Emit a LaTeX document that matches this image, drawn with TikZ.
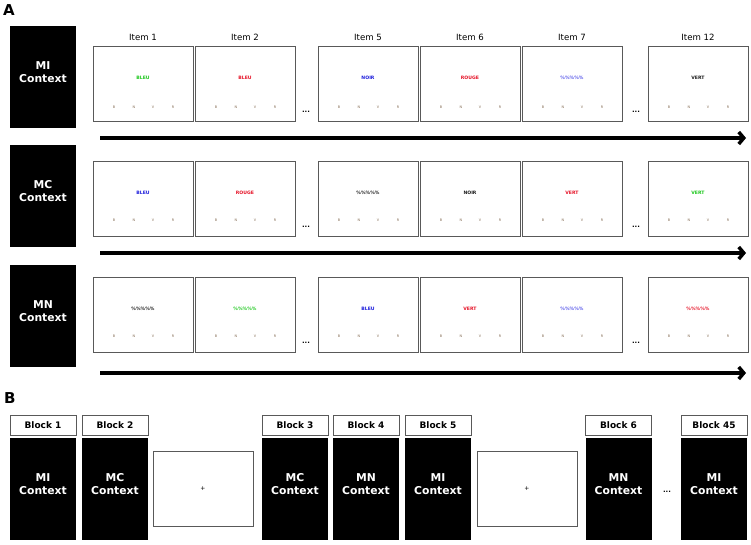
\documentclass[tikz,border=0pt]{standalone}
\usepackage{fontspec}
\setmainfont{DejaVu Sans}
\usetikzlibrary{arrows.meta}
\definecolor{wgreen}{RGB}{30,200,30}
\definecolor{wred}{RGB}{230,20,40}
\definecolor{wblue}{RGB}{30,30,220}
\definecolor{lblue}{RGB}{90,90,235}
\definecolor{wblack}{RGB}{30,30,30}
\definecolor{respcol}{RGB}{130,105,80}
\newcommand{\pcts}{\%\%\%\%\%}
\begin{document}
\begin{tikzpicture}[x=1pt,y=-1pt,
 ctx/.style={fill=black,minimum width=66pt,minimum height=102pt,inner sep=0pt,
   label={[text=white,font=\bfseries\fontsize{10.8}{13}\selectfont,align=center,yshift=5pt]center:#1}},
 screen/.style={draw=black!65,line width=0.9pt,fill=white,minimum width=100pt,minimum height=75pt,inner sep=0pt},
 word/.style={font=\bfseries\fontsize{4.6}{5}\selectfont,inner sep=0pt},
 resp/.style={font=\fontsize{3.4}{4}\selectfont,text=respcol,inner sep=0pt},
 itemlab/.style={font=\fontsize{8.6}{10}\selectfont,inner sep=0pt},
 blocklab/.style={draw=black!65,line width=0.9pt,fill=white,minimum width=66pt,minimum height=20pt,font=\bfseries\fontsize{9}{10}\selectfont,inner sep=0pt},
 timeline/.style={line width=3.5pt,-{Straight Barb[length=5pt,width=12pt]}},
 dots/.style={font=\bfseries\fontsize{7}{8}\selectfont,inner sep=0pt},
 panel/.style={font=\bfseries\fontsize{15}{17}\selectfont,anchor=north west,inner sep=0pt}
]
\useasboundingbox (0,0) rectangle (751,544);

% Panel labels
\node[panel] (pA) at (3,4) {A};
\node[panel] (pB) at (4,392) {B};

% Context boxes (panel A)
\node[ctx={MI\\Context}] (c1) at (43,77) {};
\node[ctx={MC\\Context}] (c2) at (43,196) {};
\node[ctx={MN\\Context}] (c3) at (43,316) {};

% Item labels
\foreach \cx/\t [count=\i] in {143/Item 1,245/Item 2,368/Item 5,470/Item 6,572/Item 7,698/Item 12}
  \node[itemlab] (it\i) at (\cx,37) {\t};

% Row 1
\foreach \cx/\w/\col [count=\i] in {143/BLEU/wgreen,245/BLEU/wred,368/NOIR/wblue,470/ROUGE/wred,572/\pcts/lblue,698/VERT/wblack}{
  \node[screen] (s1-\i) at (\cx,83.5) {};
  \node[word,text=\col] (w1-\i) at (\cx,78) {\w};
  \node[resp] (b1-\i) at (\cx-29,107.5) {B};
  \node[resp] (n1-\i) at (\cx-9,107.5) {N};
  \node[resp] (v1-\i) at (\cx+10,107.5) {V};
  \node[resp] (r1-\i) at (\cx+30,107.5) {R};
}
% Row 2
\foreach \cx/\w/\col [count=\i] in {143/BLEU/wblue,245/ROUGE/wred,368/\pcts/wblack,470/NOIR/wblack,572/VERT/wred,698/VERT/wgreen}{
  \node[screen] (s2-\i) at (\cx,198.5) {};
  \node[word,text=\col] (w2-\i) at (\cx,192.5) {\w};
  \node[resp] (b2-\i) at (\cx-29,220) {B};
  \node[resp] (n2-\i) at (\cx-9,220) {N};
  \node[resp] (v2-\i) at (\cx+10,220) {V};
  \node[resp] (r2-\i) at (\cx+30,220) {R};
}
% Row 3
\foreach \cx/\w/\col [count=\i] in {143/\pcts/wblack,245/\pcts/wgreen,368/BLEU/wblue,470/VERT/wred,572/\pcts/lblue,698/\pcts/wred}{
  \node[screen] (s3-\i) at (\cx,314.5) {};
  \node[word,text=\col] (w3-\i) at (\cx,308.5) {\w};
  \node[resp] (b3-\i) at (\cx-29,336) {B};
  \node[resp] (n3-\i) at (\cx-9,336) {N};
  \node[resp] (v3-\i) at (\cx+10,336) {V};
  \node[resp] (r3-\i) at (\cx+30,336) {R};
}

% Ellipses in panel A
\node[dots] (e1a) at (306,112) {...};
\node[dots] (e1b) at (636,112) {...};
\node[dots] (e2a) at (306,227) {...};
\node[dots] (e2b) at (636,227) {...};
\node[dots] (e3a) at (306,343) {...};
\node[dots] (e3b) at (636,343) {...};

% Timelines
\coordinate (t1s) at (100,138); \coordinate (t1e) at (746,138);
\coordinate (t2s) at (100,253); \coordinate (t2e) at (746,253);
\coordinate (t3s) at (100,373); \coordinate (t3e) at (746,373);
\draw[timeline] (t1s) -- (t1e);
\draw[timeline] (t2s) -- (t2e);
\draw[timeline] (t3s) -- (t3e);

% Panel B
\foreach \cx/\b/\c [count=\i] in {43/1/MI,115/2/MC,295/3/MC,366/4/MN,438/5/MI,618.5/6/MN,714/45/MI}{
  \node[blocklab] (bl\i) at (\cx,425) {Block \b};
  \node[ctx={\c\\Context}] (bc\i) at (\cx,489) {};
}
\node[screen] (f1) at (203,488.5) {\fontsize{6}{7}\selectfont +};
\node[screen] (f2) at (527,488.5) {\fontsize{6}{7}\selectfont +};
\node[dots] (eB) at (667,492) {...};
\end{tikzpicture}
\end{document}
